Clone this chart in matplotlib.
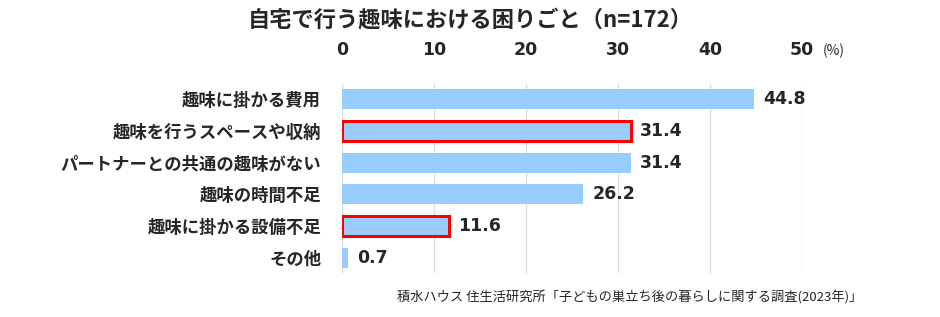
import matplotlib
matplotlib.use("Agg")
from matplotlib import pyplot as plt

plt.rcParams['font.family'] = ['Noto Sans CJK JP', 'DejaVu Sans']

# Data
categories = ["趣味に掛かる費用", "趣味を行うスペースや収納", "パートナーとの共通の趣味がない",
              "趣味の時間不足", "趣味に掛かる設備不足", "その他"]
values = [44.8, 31.4, 31.4, 26.2, 11.6, 0.7]
highlight = [False, True, False, False, True, False]
ticks = [0, 10, 20, 30, 40, 50]

fig = plt.figure(figsize=(9.4, 3.17), dpi=100)
ax = fig.add_axes([0.3638, 0.139, 0.4894, 0.596])

y = list(range(len(categories)))
for i, (v, h) in enumerate(zip(values, highlight)):
    if h:
        ax.barh(i, v, height=0.63, color="#99CCFF", edgecolor="#FF0000", linewidth=2.2, zorder=3)
    else:
        ax.barh(i, v, height=0.63, color="#99CCFF", edgecolor="none", zorder=3)
    ax.text(v + 1.0, i, f"{v}", va="center", ha="left", fontsize=12.5,
            fontweight="bold", color="#262626", family="DejaVu Sans")

ax.set_xlim(0, 50)
ax.set_ylim(len(categories) - 0.53, -0.47)
ax.set_xticks(ticks)
ax.xaxis.tick_top()
ax.set_xticklabels([str(t) for t in ticks], fontsize=12.5, fontweight="bold",
                   color="#262626", family="DejaVu Sans")
ax.tick_params(axis="x", length=0, pad=18)
ax.set_yticks(y)
ax.set_yticklabels(categories, fontsize=12.5, fontweight="bold", color="#262626")
ax.tick_params(axis="y", length=0, pad=15)
ax.grid(axis="x", color="#DDDDDD", linewidth=1, zorder=0)
for s in ax.spines.values():
    s.set_visible(False)

fig.text(0.887, 0.84, "(%)", fontsize=10, color="#262626", ha="center", va="center")
fig.text(0.5, 0.937, "自宅で行う趣味における困りごと（n=172）", fontsize=16,
         fontweight="bold", color="#262626", ha="center", va="center")
fig.text(0.917, 0.063, "積水ハウス 住生活研究所「子どもの巣立ち後の暮らしに関する調査(2023年)」",
         fontsize=9.5, color="#262626", ha="right", va="center")

fig.savefig("out.png", dpi=100, facecolor="white")
